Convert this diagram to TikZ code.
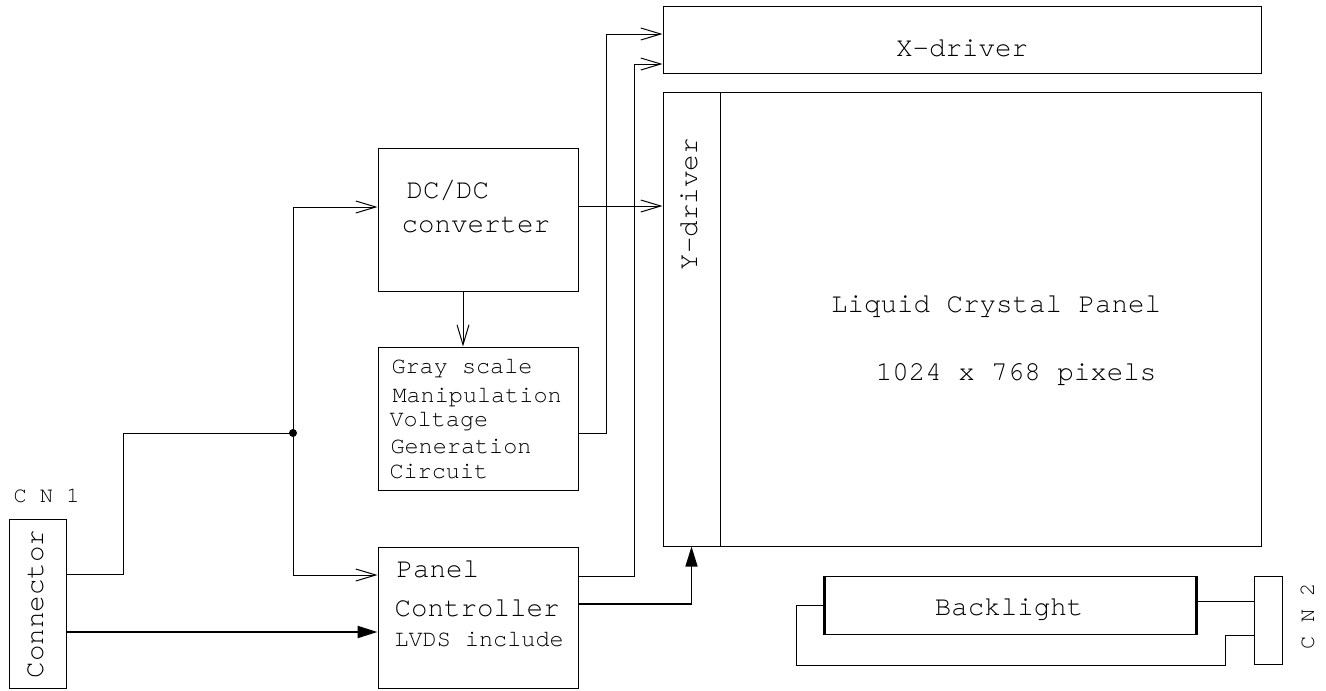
\documentclass[tikz,border=0pt]{standalone}
\usepackage{fontspec}
\setmainfont{TeX Gyre Cursor}
\usetikzlibrary{arrows.meta}
\begin{document}
\begin{tikzpicture}[x=1pt,y=-1pt,line width=1pt,
  box/.style={draw,rectangle,inner sep=0pt,line width=1pt},
  big/.style={font=\fontsize{27.5}{30}\selectfont,inner sep=0pt},
  small/.style={font=\fontsize{23.5}{26}\selectfont,inner sep=0pt,anchor=base west},
  cnlbl/.style={font=\fontsize{22}{24}\selectfont,inner sep=0pt},
  oarr/.style={-{Straight Barb[length=20pt,width=12pt]}},
  farr/.style={-{Triangle[length=20pt,width=12pt]}},
  dot/.style={circle,fill=black,inner sep=0pt,minimum size=8pt}]
\useasboundingbox (0,0) rectangle (1326,691);
% boxes
\node[box,minimum width=598pt,minimum height=67pt] (xdrv) at (962,39.5) {};
\node[box,minimum width=598pt,minimum height=454pt] (panel) at (962,319) {};
\node[box,minimum width=57pt,minimum height=454pt] (ydrv) at (691.5,319) {};
\node[box,minimum width=200pt,minimum height=143pt] (dcdc) at (478,219.5) {};
\node[box,minimum width=200pt,minimum height=143pt] (gray) at (478,418.5) {};
\node[box,minimum width=200pt,minimum height=141pt] (ctrl) at (478,617.5) {};
\node[box,minimum width=57pt,minimum height=169pt] (conn) at (37.5,603.5) {};
\node[box,minimum width=371pt,minimum height=58pt] (back) at (1010.5,605) {};
\node[box,minimum width=28pt,minimum height=88pt] (cn2) at (1268,620) {};
\draw[line width=3pt] (back.north west) -- (back.south west);
\draw[line width=3pt] (back.north east) -- (back.south east);
\node[dot] (jn) at (293,433) {};
% texts
\node[big,anchor=base] (txd) at (962,56) {X-driver};
\node[big,anchor=base,rotate=90] (tyd) at (697,204) {Y-driver};
\node[big,anchor=base] (tlcp) at (996,312) {Liquid Crystal Panel};
\node[big,anchor=base] (tpix) at (1016,380) {1024 x 768 pixels};
\node[big,anchor=base west] (t1) at (406,198) {DC/DC};
\node[big,anchor=base west] (t2) at (401,232) {converter};
\node[small] (g1) at (391,373) {Gray scale};
\node[small] (g2) at (392,402) {Manipulation};
\node[small] (g3) at (389,426) {Voltage};
\node[small] (g4) at (390,453) {Generation};
\node[small] (g5) at (389,478) {Circuit};
\node[big,anchor=base west] (p1) at (396,577) {Panel};
\node[big,anchor=base west] (p2) at (394,616) {Controller};
\node[small] (p3) at (394,646) {LVDS include};
\node[big,anchor=base] (tbl) at (1009,615) {Backlight};
\node[big,anchor=base,rotate=90] (tcon) at (43,604) {Connector};
\node[cnlbl,anchor=base west] (tcn1) at (13,502) {C N 1};
\node[cnlbl,anchor=base,rotate=90] (tcn2) at (1314,616) {C N 2};
% coordinates
\coordinate (jtop) at (293,207);
\coordinate (jbot) at (293,575);
% connectors
\draw[oarr] (dcdc.east |- 0,206) -- (ydrv.west |- 0,206);
\draw[oarr] (dcdc.south -| 463,0) -- (gray.north -| 463,0);
\draw[oarr] (gray.east |- 0,433) -| (606,34) -- (xdrv.west |- 0,34);
\draw[oarr] (ctrl.east |- 0,576) -| (634,64) -- (xdrv.west |- 0,64);
\draw[farr,line width=1.4pt] (ctrl.east |- 0,604) -| (ydrv.south);
\draw (conn.east |- 0,574) -| (123,433) -- (jn.center);
\draw (jtop) -- (jbot);
\draw[oarr] (jtop) -- (dcdc.west |- jtop);
\draw[oarr] (jbot) -- (ctrl.west |- jbot);
\draw[farr,line width=2pt] (conn.east |- 0,632) -- (ctrl.west |- 0,632);
\draw (back.east |- 0,601) -- (cn2.west |- 0,601);
\draw (cn2.west |- 0,635) -| (1225,665) -| (796,605) -- (back.west |- 0,605);
\end{tikzpicture}
\end{document}
